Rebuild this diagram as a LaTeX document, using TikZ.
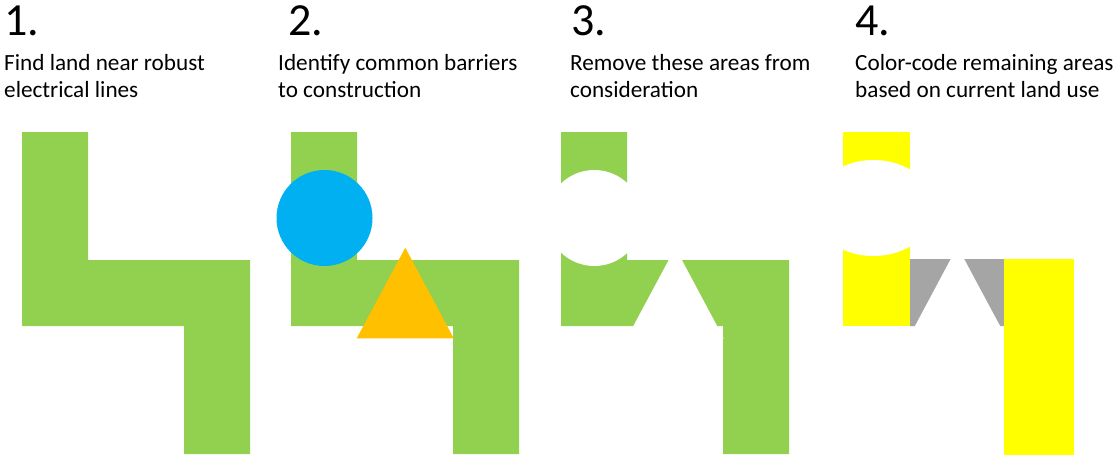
\documentclass[tikz,border=0pt]{standalone}
\usepackage{fontspec}
\setmainfont{Carlito}
\definecolor{lgreen}{HTML}{92D050}
\definecolor{sblue}{HTML}{00B0F0}
\definecolor{sorange}{HTML}{FFC000}
\definecolor{syellow}{HTML}{FFFF00}
\definecolor{sgray}{HTML}{A5A5A5}
\tikzset{
  num/.style={anchor=base west, inner sep=0pt, font=\fontsize{46}{46}\selectfont},
  caption/.style={anchor=base west, inner sep=0pt, align=left, font=\fontsize{23.2}{27}\selectfont},
  land/.style={fill=lgreen, draw=none},
  cut/.style={fill=white, draw=none}
}
\begin{document}
\begin{tikzpicture}[x=1pt, y=-1pt]
\clip (0,0) rectangle (1114,456);
\fill[white] (0,0) rectangle (1114,456);

% texts (base anchor = baseline of the last line)
\node[num] (n1) at (4,35) {1.};
\node[num] (n2) at (288,35) {2.};
\node[num] (n3) at (571,35) {3.};
\node[num] (n4) at (855,35) {4.};
\node[caption] (t1) at (4,97.7) {Find land near robust\\electrical lines};
\node[caption] (t2) at (278,97.7) {Identify common barriers\\to construction};
\node[caption] (t3) at (570,97.7) {Remove these areas from\\consideration};
\node[caption] (t4) at (855,97.7) {Color-code remaining areas\\based on current land use};

% panel 1
\fill[land] (22,132) -- (88,132) -- (88,260) -- (250,260) -- (250,454) -- (184,454) -- (184,326) -- (22,326) -- cycle;

% panel 2
\fill[land] (291,132) -- (357,132) -- (357,260) -- (519,260) -- (519,454) -- (453,454) -- (453,326) -- (291,326) -- cycle;
\fill[sblue] (324.5,218) circle[radius=48];
\fill[sorange] (405.3,247.7) -- (356.7,338.3) -- (453.7,338.3) -- cycle;

% panel 3
\fill[land] (561,132) -- (627,132) -- (627,260) -- (789,260) -- (789,454) -- (723,454) -- (723,326) -- (561,326) -- cycle;
\fill[cut] (594.3,218) circle[radius=48];
\fill[cut] (675.3,247.7) -- (626.7,338.3) -- (723.7,338.3) -- cycle;

% panel 4
\fill[syellow] (843,132) rectangle (910,326);
\fill[cut] (873.4,208) ellipse[x radius=61, y radius=48];
\fill[sgray] (910,259) -- (950.6,259) -- (914.8,326) -- (910,326) -- cycle;
\fill[sgray] (964.3,259) -- (1004,259) -- (1004,326) -- (1000.2,326) -- cycle;
\fill[syellow] (1004,259) rectangle (1074,455);
\end{tikzpicture}
\end{document}
